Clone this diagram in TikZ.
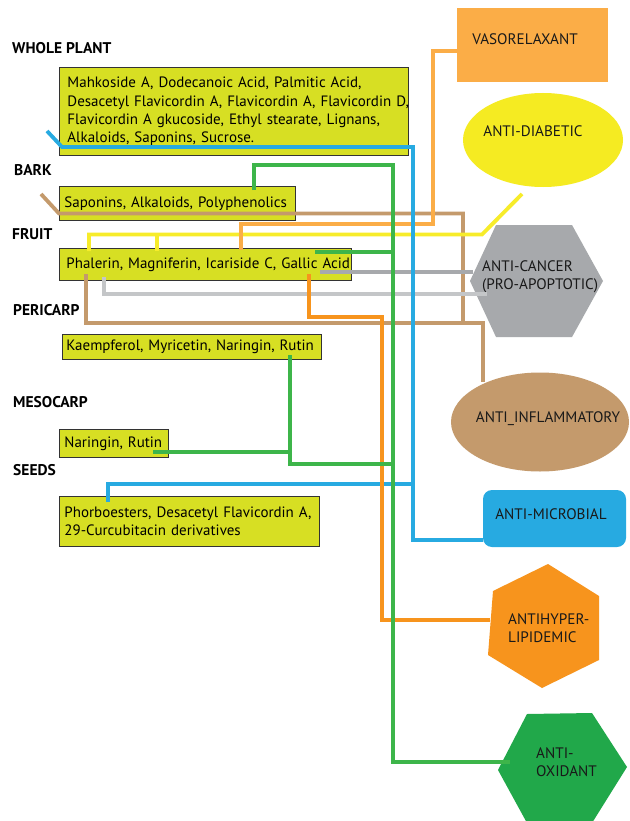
\documentclass[tikz,border=0pt]{standalone}
\usepackage{fontspec}
\setmainfont{PT Sans}
\usetikzlibrary{shapes.geometric}
\definecolor{boxfill}{HTML}{D7DF23}
\definecolor{vasoC}{HTML}{FBAD47}
\definecolor{diabC}{HTML}{F5EB22}
\definecolor{cancC}{HTML}{A7A9AC}
\definecolor{lgray}{HTML}{C4C6C8}
\definecolor{inflC}{HTML}{C49A6C}
\definecolor{microC}{HTML}{27AAE1}
\definecolor{hypC}{HTML}{F7941D}
\definecolor{oxiC}{HTML}{21A84A}
\definecolor{lgreen}{HTML}{3DB54A}
\definecolor{lyellow}{HTML}{F7EC2A}
\begin{document}
\begin{tikzpicture}[x=1pt,y=-1pt,
  head/.style={font=\bfseries\fontsize{15.5}{17}\selectfont, anchor=west, inner sep=0pt},
  cbox/.style={draw=black!80, fill=boxfill, line width=0.9pt, anchor=north west, align=left,
     inner ysep=0pt, font=\fontsize{15}{18.3}\selectfont},
  lab/.style={font=\fontsize{15.2}{18.5}\selectfont, inner sep=0pt, align=left, text=black!90},
  conn/.style={line width=3.8pt}
]
\useasboundingbox (0,0) rectangle (629,821);
\fill[white] (0,0) rectangle (629,821);

% headings
\node[head] (hWhole) at (12,48) {WHOLE PLANT};
\node[head] (hBark) at (14,170) {BARK};
\node[head] (hFruit) at (12,234) {FRUIT};
\node[head] (hPeri) at (13,310) {PERICARP};
\node[head] (hMeso) at (13,402) {MESOCARP};
\node[head] (hSeeds) at (13,470) {SEEDS};

% compound boxes
\node[cbox, inner xsep=8pt, text width=333pt, minimum height=88pt] (bWhole) at (59,67)
 {\mbox{Mahkoside A, Dodecanoic Acid, Palmitic Acid,}\\\mbox{Desacetyl Flavicordin A, Flavicordin A, Flavicordin D,}\\\mbox{Flavicordin A gkucoside, Ethyl stearate, Lignans,}\\\mbox{Alkaloids, Saponins, Sucrose.}};
\node[cbox, inner xsep=5pt, text width=226pt, minimum height=34pt] (bBark) at (59,186)
 {\mbox{Saponins, Alkaloids, Polyphenolics}};
\node[cbox, inner xsep=7pt, text width=278pt, minimum height=32pt] (bFruit) at (59,248)
 {\mbox{Phalerin, Magniferin, Icariside C, Gallic Acid}};
\node[cbox, inner xsep=4pt, text width=251pt, minimum height=25pt] (bPeri) at (62,334)
 {\mbox{Kaempferol, Myricetin, Naringin, Rutin}};
\node[cbox, inner xsep=5pt, text width=99pt, minimum height=28pt] (bMeso) at (59,429)
 {\mbox{Naringin, Rutin}};
\node[cbox, inner xsep=5pt, text width=250pt, minimum height=50pt] (bSeeds) at (59,496)
 {\mbox{Phorboesters, Desacetyl Flavicordin A,}\\\mbox{29-Curcubitacin derivatives}};

% effect shapes
\node[rectangle, fill=vasoC, minimum width=151pt, minimum height=74pt, inner sep=0pt] (vaso) at (532.5,45) {};
\node[ellipse, fill=diabC, minimum width=160pt, minimum height=94pt, inner sep=0pt] (diab) at (543,140) {};
\fill[cancC] (496,225) -- (572,225) -- (603,281) -- (572,337) -- (496,337) -- (470,281) -- cycle;
\node[ellipse, fill=inflC, minimum width=178pt, minimum height=99pt, inner sep=0pt] (infl) at (540,422) {};
\fill[microC, rounded corners=9pt] (483,490) rectangle (626,547);
\fill[hypC] (548,564) -- (599,596) -- (599,660) -- (542,688) -- (488,655) -- (493,591) -- cycle;
\fill[oxiC] (527,714) -- (592,713) -- (627,767) -- (592,823) -- (527,823) -- (498,770) -- cycle;

% effect labels
\node[lab] (tVaso) at (525,39) {VASORELAXANT};
\node[lab] (tDiab) at (533,131) {ANTI-DIABETIC};
\node[lab, anchor=west] (tCanc) at (482,277) {ANTI-CANCER\\(PRO-APOPTOTIC)};
\node[lab] (tInfl) at (548,419) {ANTI\_INFLAMMATORY};
\node[lab] (tMicro) at (551,514) {ANTI-MICROBIAL};
\node[lab, anchor=west] (tHyp) at (508,628) {ANTIHYPER-\\LIPIDEMIC};
\node[lab, anchor=west] (tOxi) at (536,762) {ANTI-\\OXIDANT};

% connectors
\draw[conn, inflC] (41,194) -- (59,213.5) -- (463,213.5) -- (463,323);
\draw[conn, inflC] (86,274) -- (86,323) -- (483,323) -- (483,382);
\draw[conn, lyellow] (89,251) -- (89,234.5) -- (482,234.5) -- (522,194);
\draw[conn, lyellow] (157,251) -- (157,234.5);
\draw[conn, vasoC] (457,51) -- (433,51) -- (433,224) -- (241,224) -- (241,250);
\draw[conn, cancC] (320,272) -- (473,272);
\draw[conn, lgray] (104,277) -- (104,294) -- (487,294);
\draw[conn, microC] (47,131) -- (62,147) -- (413,147) -- (413,540) -- (483,540);
\draw[conn, microC] (108,502) -- (108,484) -- (413,484);
\draw[conn, hypC] (309,274) -- (309,317) -- (382,317) -- (382,620) -- (490,620);
\draw[conn, lgreen] (254,190) -- (254,165) -- (393,165) -- (393,762) -- (510,762);
\draw[conn, lgreen] (315,252) -- (393,252);
\draw[conn, lgreen] (290,355) -- (290,464) -- (393,464);
\draw[conn, lgreen] (153,452) -- (290,452);
\end{tikzpicture}
\end{document}
